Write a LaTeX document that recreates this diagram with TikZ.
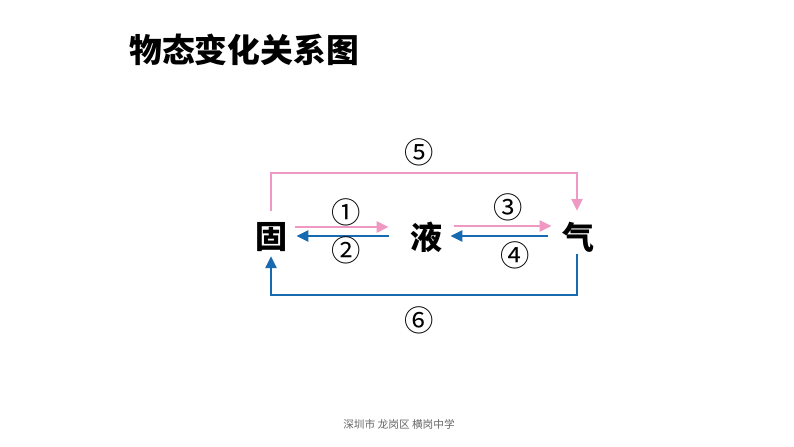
\documentclass[tikz,border=0pt]{standalone}
\usepackage{fontspec}
\newfontfamily\cjk{Noto Sans CJK SC}
\usetikzlibrary{arrows.meta,calc,positioning}
\definecolor{pinkline}{RGB}{240,152,196}
\definecolor{blueline}{RGB}{24,106,176}
\tikzset{
  state/.style={inner sep=0pt,font=\cjk\bfseries\fontsize{24}{24}\selectfont},
  numlabel/.style={inner sep=0pt,font=\cjk\fontsize{22}{22}\selectfont},
  melt/.style={draw=pinkline,line width=2.2pt,-{Triangle[length=9pt,width=8pt]}},
  freeze/.style={draw=blueline,line width=2.2pt,-{Triangle[length=9pt,width=8pt]}}
}

\begin{document}
\begin{tikzpicture}[x=0.75pt,y=-0.75pt]
  \fill[white] (0,0) rectangle (794,447);
  \useasboundingbox (0,0) rectangle (794,447);

  \node[anchor=west,inner sep=0pt,font=\cjk\bfseries\fontsize{24.6}{24.6}\selectfont] (title) at (129,50) {物态变化关系图};

  \node[state] (gu) at (271,237) {固};
  \node[state] (ye) at (426,237) {液};
  \node[state] (qi) at (578,237) {气};

  \draw[melt] ([shift={(8,-10)}]gu.east) -- ([shift={(-21,-10)}]ye.west);
  \draw[freeze] ([shift={(-21,-1)}]ye.west) -- ([shift={(9,-1)}]gu.east);
  \draw[melt] ([shift={(12,-11)}]ye.east) -- ([shift={(-10,-11)}]qi.west);
  \draw[freeze] ([shift={(-14,-1)}]qi.west) -- ([shift={(8,-1)}]ye.east);
  \draw[melt] ([shift={(0,-26)}]gu.center) -- ([shift={(0,-64)}]gu.center)
    -| ([shift={(-1,-26)}]qi.center);
  \draw[freeze] ([shift={(-1,17)}]qi.center) -- ([shift={(-1,58)}]qi.center)
    -| ([shift={(0,19)}]gu.center);

  \node[numlabel] (n1) at (346,212) {①};
  \node[numlabel] (n2) at (346,250) {②};
  \node[numlabel] (n3) at (508,207) {③};
  \node[numlabel] (n4) at (515,255) {④};
  \node[numlabel] (n5) at (419,152) {⑤};
  \node[numlabel] (n6) at (419,320) {⑥};

  \node[inner sep=0pt,text=black!60,font=\cjk\fontsize{8}{8}\selectfont] (foot) at (399,424) {深圳市 龙岗区 横岗中学};
\end{tikzpicture}
\end{document}
